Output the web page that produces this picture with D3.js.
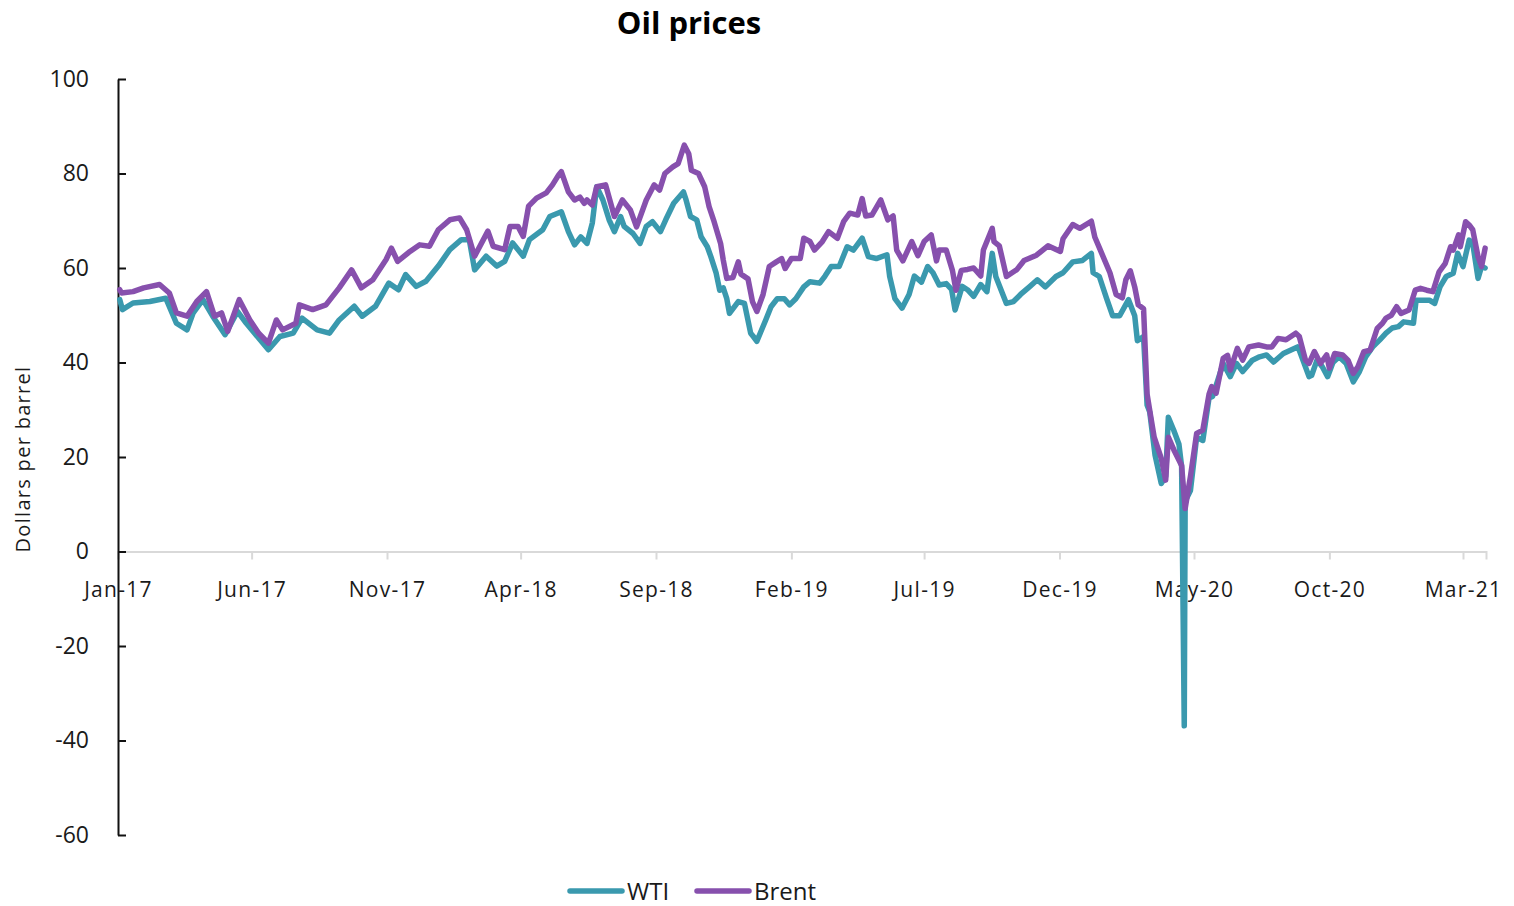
<!DOCTYPE html>
<html>
<head>
<meta charset="utf-8">
<script src="https://cdn.jsdelivr.net/npm/d3@7"></script>
<style>
  body { margin: 0; background: #fff; }
  svg { display: block; }
</style>
</head>
<body>
<div id="chart"></div>
<script>
// weekly-ish readings of daily prices, dollars per barrel
const wti = [
  ["2017-01-03",53.3],["2017-01-06",51.2],["2017-01-18",52.6],["2017-02-06",52.9],["2017-02-24",53.6],["2017-03-08",48.3],["2017-03-20",46.9],["2017-03-27",50.5],
  ["2017-04-07",53.3],["2017-04-18",49.8],["2017-05-02",45.9],["2017-05-16",50.8],["2017-05-26",48.3],["2017-06-20",42.7],["2017-07-03",45.5],["2017-07-18",46.2],
  ["2017-07-28",49.4],["2017-08-14",46.9],["2017-08-28",46.2],["2017-09-08",49.0],["2017-09-25",51.9],["2017-10-04",49.8],["2017-10-19",51.9],["2017-11-03",56.8],
  ["2017-11-14",55.4],["2017-11-22",58.6],["2017-12-04",56.1],["2017-12-15",57.2],["2017-12-29",60.4],["2018-01-11",63.9],["2018-01-24",66.0],["2018-02-02",66.0],
  ["2018-02-08",59.6],["2018-02-21",62.5],["2018-03-05",60.4],["2018-03-14",61.4],["2018-03-23",65.3],["2018-04-04",62.5],["2018-04-11",66.0],["2018-04-26",68.1],
  ["2018-05-04",70.9],["2018-05-17",71.9],["2018-05-25",67.7],["2018-06-01",64.9],["2018-06-08",66.6],["2018-06-15",65.2],["2018-06-21",69.5],["2018-06-26",77.2],
  ["2018-07-03",74.4],["2018-07-10",70.2],["2018-07-16",67.7],["2018-07-23",70.9],["2018-07-27",68.8],["2018-08-06",67.3],["2018-08-14",65.2],["2018-08-21",68.8],
  ["2018-08-28",69.8],["2018-09-06",67.7],["2018-09-12",70.2],["2018-09-21",73.7],["2018-10-02",76.1],["2018-10-05",74.4],["2018-10-10",70.9],["2018-10-17",70.2],
  ["2018-10-22",66.6],["2018-10-29",64.5],["2018-11-02",62.4],["2018-11-08",58.9],["2018-11-12",55.3],["2018-11-16",55.8],["2018-11-20",53.5],["2018-11-23",50.4],
  ["2018-12-03",52.9],["2018-12-10",52.5],["2018-12-17",46.2],["2018-12-20",45.5],["2018-12-24",44.5],["2019-01-03",49.0],["2019-01-09",51.8],["2019-01-16",53.5],
  ["2019-01-24",53.5],["2019-01-30",52.2],["2019-02-06",53.5],["2019-02-15",56.0],["2019-02-22",57.1],["2019-03-05",56.8],["2019-03-11",58.3],["2019-03-18",60.3],
  ["2019-03-27",60.3],["2019-04-05",64.5],["2019-04-12",63.8],["2019-04-22",66.3],["2019-04-29",62.4],["2019-05-08",62.0],["2019-05-20",62.8],["2019-05-23",58.3],
  ["2019-05-29",53.5],["2019-06-06",51.5],["2019-06-14",54.4],["2019-06-20",58.3],["2019-06-28",57.0],["2019-07-05",60.3],["2019-07-11",59.0],["2019-07-18",56.4],
  ["2019-07-26",56.7],["2019-08-01",55.5],["2019-08-05",51.1],["2019-08-13",56.1],["2019-08-19",55.4],["2019-08-26",54.0],["2019-09-03",56.5],["2019-09-10",55.0],
  ["2019-09-16",63.1],["2019-09-20",58.2],["2019-10-02",52.5],["2019-10-10",52.9],["2019-10-18",54.4],["2019-10-28",56.0],["2019-11-06",57.5],["2019-11-15",56.0],
  ["2019-11-27",58.2],["2019-12-05",59.0],["2019-12-16",61.3],["2019-12-27",61.6],["2020-01-06",63.1],["2020-01-08",59.0],["2020-01-15",58.2],["2020-01-23",53.7],
  ["2020-01-30",49.9],["2020-02-07",49.9],["2020-02-17",53.3],["2020-02-24",49.9],["2020-02-27",44.6],["2020-03-05",45.5],["2020-03-09",31.0],["2020-03-12",29.5],
  ["2020-03-18",20.4],["2020-03-25",14.4],["2020-03-30",15.9],["2020-04-02",28.4],["2020-04-08",25.7],["2020-04-14",22.7],["2020-04-17",18.0],["2020-04-20",-36.9],
  ["2020-04-21",10.6],["2020-04-27",12.9],["2020-05-04",24.2],["2020-05-11",23.5],["2020-05-18",32.5],["2020-05-22",32.8],["2020-06-03",39.8],["2020-06-11",37.0],
  ["2020-06-18",39.8],["2020-06-25",38.1],["2020-07-06",40.5],["2020-07-14",41.2],["2020-07-22",41.6],["2020-07-30",40.1],["2020-08-10",41.9],["2020-08-18",42.6],
  ["2020-08-26",43.3],["2020-08-28",42.6],["2020-09-08",37.0],["2020-09-11",37.3],["2020-09-17",40.5],["2020-09-23",39.1],["2020-09-29",37.0],["2020-10-05",40.0],
  ["2020-10-12",41.2],["2020-10-20",39.8],["2020-10-28",35.9],["2020-11-04",38.1],["2020-11-11",41.2],["2020-11-19",43.3],["2020-11-27",44.8],["2020-12-04",46.2],
  ["2020-12-11",47.3],["2020-12-18",47.6],["2020-12-24",48.6],["2021-01-04",48.3],["2021-01-07",53.2],["2021-01-14",53.2],["2021-01-22",53.2],["2021-01-28",52.5],
  ["2021-02-03",56.0],["2021-02-10",58.2],["2021-02-18",58.9],["2021-02-23",63.1],["2021-03-01",60.3],["2021-03-08",65.9],["2021-03-12",65.2],["2021-03-18",57.8],
  ["2021-03-22",60.3],["2021-03-26",60.0]
];

const brent = [
  ["2017-01-03",55.4],["2017-01-05",54.7],["2017-01-18",55.0],["2017-01-30",55.8],["2017-02-17",56.5],["2017-02-28",54.7],["2017-03-08",50.5],["2017-03-20",49.8],
  ["2017-03-31",52.9],["2017-04-11",55.0],["2017-04-20",49.8],["2017-04-28",50.5],["2017-05-05",46.6],["2017-05-18",53.3],["2017-05-30",49.0],["2017-06-09",46.2],
  ["2017-06-20",44.1],["2017-06-29",49.0],["2017-07-06",46.9],["2017-07-21",48.3],["2017-07-25",52.2],["2017-08-09",51.2],["2017-08-24",52.2],["2017-09-08",55.8],
  ["2017-09-22",59.6],["2017-10-03",55.8],["2017-10-16",57.5],["2017-10-31",61.8],["2017-11-06",64.2],["2017-11-13",61.4],["2017-11-27",63.5],["2017-12-08",64.9],
  ["2017-12-19",64.6],["2017-12-29",68.1],["2018-01-11",70.2],["2018-01-22",70.6],["2018-01-30",68.1],["2018-02-08",62.5],["2018-02-23",67.8],["2018-03-01",64.6],
  ["2018-03-14",63.9],["2018-03-20",68.8],["2018-03-29",68.8],["2018-04-04",66.7],["2018-04-10",73.1],["2018-04-19",74.8],["2018-04-30",75.9],["2018-05-07",77.6],
  ["2018-05-14",79.7],["2018-05-17",80.4],["2018-05-25",76.1],["2018-06-01",74.4],["2018-06-07",75.0],["2018-06-12",73.7],["2018-06-15",74.4],["2018-06-21",73.3],
  ["2018-06-26",77.2],["2018-07-06",77.6],["2018-07-16",70.9],["2018-07-25",74.4],["2018-08-03",72.3],["2018-08-10",68.7],["2018-08-21",74.4],["2018-08-30",77.6],
  ["2018-09-05",76.5],["2018-09-11",80.0],["2018-09-20",81.4],["2018-09-26",82.1],["2018-10-03",86.0],["2018-10-08",84.2],["2018-10-11",80.7],["2018-10-19",80.0],
  ["2018-10-26",77.2],["2018-10-31",73.0],["2018-11-05",70.2],["2018-11-13",65.2],["2018-11-16",61.7],["2018-11-20",57.8],["2018-11-27",58.0],["2018-12-03",61.3],
  ["2018-12-06",58.7],["2018-12-14",57.7],["2018-12-19",52.9],["2018-12-24",50.8],["2018-12-31",54.4],["2019-01-07",60.3],["2019-01-15",61.3],["2019-01-21",62.0],
  ["2019-01-25",59.9],["2019-02-01",62.0],["2019-02-11",62.0],["2019-02-15",66.3],["2019-02-22",65.6],["2019-02-27",63.8],["2019-03-08",65.6],["2019-03-15",67.7],
  ["2019-03-25",66.3],["2019-04-01",69.8],["2019-04-08",71.6],["2019-04-17",71.2],["2019-04-22",74.7],["2019-04-26",71.0],["2019-05-03",71.2],["2019-05-13",74.4],
  ["2019-05-21",70.2],["2019-05-27",71.0],["2019-05-31",63.8],["2019-06-07",61.5],["2019-06-17",65.6],["2019-06-24",62.6],["2019-07-01",65.6],["2019-07-09",67.0],
  ["2019-07-15",61.5],["2019-07-18",63.8],["2019-07-26",63.8],["2019-08-02",59.5],["2019-08-06",55.3],["2019-08-12",59.5],["2019-08-19",59.7],["2019-08-26",60.0],
  ["2019-09-03",58.3],["2019-09-06",63.8],["2019-09-16",68.4],["2019-09-18",65.6],["2019-09-24",64.7],["2019-10-02",58.2],["2019-10-14",59.7],["2019-10-22",61.6],
  ["2019-11-05",62.7],["2019-11-18",64.7],["2019-12-02",63.5],["2019-12-05",66.2],["2019-12-16",69.2],["2019-12-24",68.4],["2020-01-06",69.9],["2020-01-10",66.5],
  ["2020-01-15",64.3],["2020-01-27",59.0],["2020-02-03",54.4],["2020-02-10",53.7],["2020-02-14",57.5],["2020-02-19",59.4],["2020-02-24",56.0],["2020-02-28",52.2],
  ["2020-03-05",51.4],["2020-03-09",33.3],["2020-03-13",28.7],["2020-03-17",24.2],["2020-03-25",19.7],["2020-03-30",15.1],["2020-04-02",24.2],["2020-04-09",21.2],
  ["2020-04-17",18.2],["2020-04-21",9.1],["2020-04-27",15.9],["2020-05-04",25.0],["2020-05-11",25.7],["2020-05-18",33.3],["2020-05-21",34.9],["2020-05-26",33.5],
  ["2020-06-03",40.9],["2020-06-08",41.5],["2020-06-11",38.4],["2020-06-19",43.0],["2020-06-25",40.5],["2020-07-02",43.3],["2020-07-13",43.7],["2020-07-22",43.3],
  ["2020-07-28",43.3],["2020-08-04",45.1],["2020-08-13",44.8],["2020-08-24",46.2],["2020-08-28",45.5],["2020-09-04",40.5],["2020-09-08",39.8],["2020-09-14",42.3],
  ["2020-09-21",39.8],["2020-09-28",41.6],["2020-10-01",38.8],["2020-10-07",41.9],["2020-10-16",41.6],["2020-10-22",40.5],["2020-10-28",37.7],["2020-11-02",39.0],
  ["2020-11-09",42.3],["2020-11-16",42.6],["2020-11-24",47.2],["2020-11-30",48.3],["2020-12-04",49.4],["2020-12-10",50.0],["2020-12-16",51.8],["2020-12-21",50.4],
  ["2020-12-30",51.1],["2021-01-06",55.3],["2021-01-12",55.7],["2021-01-19",55.3],["2021-01-26",55.0],["2021-02-02",59.2],["2021-02-09",61.0],["2021-02-15",64.5],
  ["2021-02-18",63.8],["2021-02-24",67.0],["2021-02-26",64.5],["2021-03-04",69.8],["2021-03-08",69.1],["2021-03-12",68.1],["2021-03-18",62.4],["2021-03-22",60.3],
  ["2021-03-26",64.2]
];

const xTickDates = ["2017-01-01","2017-06-01","2017-11-01","2018-04-01","2018-09-01","2019-02-01",
                    "2019-07-01","2019-12-01","2020-05-01","2020-10-01","2021-03-01"];
const yTicks = [-60, -40, -20, 0, 20, 40, 60, 80, 100];

const series = [
  { name: "WTI", data: wti, color: "#3a99ae" },
  { name: "Brent", data: brent, color: "#8750ad" }
];

const parse = d3.timeParse("%Y-%m-%d");
series.forEach(s => { s.points = s.data.map(d => ({ date: parse(d[0]), value: d[1] })); });

const width = 1514, height = 906;
const svg = d3.select("#chart").append("svg")
    .attr("width", width)
    .attr("height", height);

const x = d3.scaleTime()
    .domain([parse("2017-01-01"), parse("2021-03-27")])
    .range([118, 1486]);

const y = d3.scaleLinear()
    .domain([-60, 100])
    .range([835, 79]);

// title
svg.append("text")
    .attr("x", 689)
    .attr("y", 34)
    .attr("text-anchor", "middle")
    .style("font-family", "'Open Sans', sans-serif")
    .style("font-size", "31px")
    .style("font-weight", "bold")
    .style("fill", "#000")
    .text("Oil prices");

// x axis sits on zero
const xAxis = svg.append("g")
    .attr("transform", `translate(0,${y(0)})`)
    .call(d3.axisBottom(x)
        .tickValues(xTickDates.map(parse))
        .tickFormat(d3.timeFormat("%b-%y"))
        .tickSize(8)
        .tickPadding(23));
xAxis.select(".domain").attr("stroke", "#d9d9d9").attr("stroke-width", 2);
xAxis.selectAll(".tick line").attr("stroke", "#d9d9d9").attr("stroke-width", 2);
xAxis.selectAll(".tick text")
    .style("font-family", "'Open Sans', sans-serif")
    .style("font-size", "21px")
    .style("letter-spacing", "1.3px")
    .style("fill", "#1a1a1a");

// y axis
const yAxis = svg.append("g")
    .attr("transform", "translate(118,0)")
    .call(d3.axisLeft(y)
        .tickValues(yTicks)
        .tickFormat(d => String(d))
        .tickSizeInner(-8)
        .tickSizeOuter(0)
        .tickPadding(29));
yAxis.select(".domain").attr("stroke", "#111").attr("stroke-width", 2);
yAxis.selectAll(".tick line").attr("stroke", "#111").attr("stroke-width", 2);
yAxis.selectAll(".tick text")
    .style("font-family", "'Open Sans', sans-serif")
    .style("font-size", "23px")
    .style("fill", "#1a1a1a");

svg.append("text")
    .attr("transform", "translate(30,459) rotate(-90)")
    .attr("text-anchor", "middle")
    .style("font-family", "'Open Sans', sans-serif")
    .style("font-size", "20px")
    .style("letter-spacing", "1.3px")
    .style("fill", "#1a1a1a")
    .text("Dollars per barrel");

// lines
const line = d3.line()
    .x(d => x(d.date))
    .y(d => y(d.value));

svg.selectAll("path.series")
    .data(series)
    .enter()
    .append("path")
    .attr("class", "series")
    .attr("d", d => line(d.points))
    .attr("fill", "none")
    .attr("stroke", d => d.color)
    .attr("stroke-width", 5.5)
    .attr("stroke-linejoin", "round")
    .attr("stroke-linecap", "round");

// legend
const legend = svg.selectAll("g.legend")
    .data(series)
    .enter()
    .append("g")
    .attr("class", "legend")
    .attr("transform", (d, i) => `translate(${570 + i * 127},891)`);

legend.append("line")
    .attr("x1", 0).attr("x2", 52)
    .attr("y1", 0).attr("y2", 0)
    .attr("stroke", d => d.color)
    .attr("stroke-width", 5.5)
    .attr("stroke-linecap", "round");

legend.append("text")
    .attr("x", 57)
    .attr("y", 9)
    .style("font-family", "'Open Sans', sans-serif")
    .style("font-size", "24px")
    .style("fill", "#1a1a1a")
    .text(d => d.name);
</script>
</body>
</html>
